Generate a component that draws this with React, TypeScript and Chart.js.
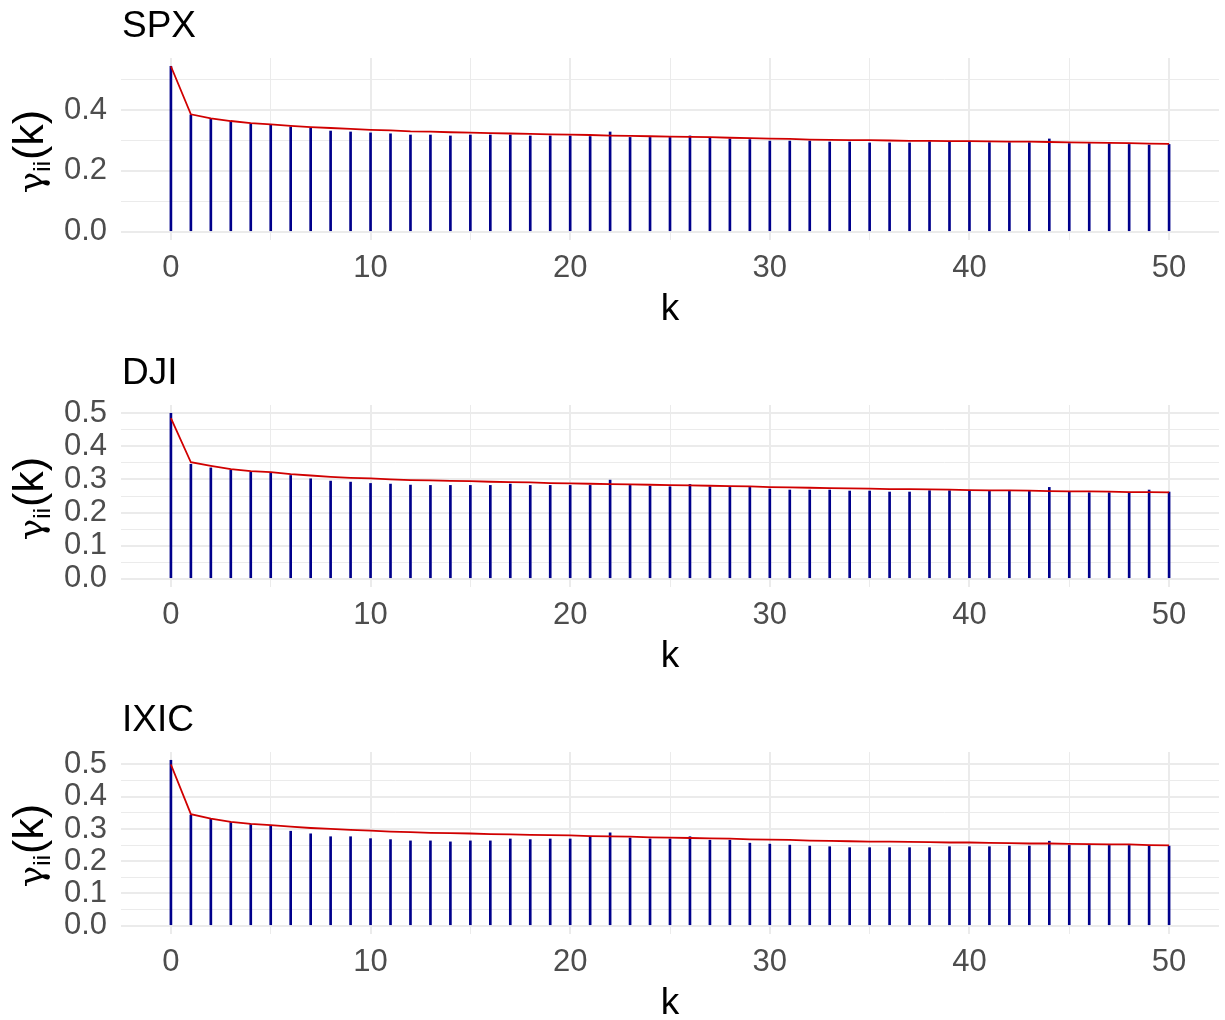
import React, { useEffect, useRef } from 'react';
import { Chart, registerables } from 'chart.js';

Chart.register(...registerables);

// ---------- data ----------
const lags = [
  0, 1, 2, 3, 4, 5, 6, 7, 8, 9, 10, 11, 12, 13, 14, 15, 16, 17, 18, 19, 20, 21, 22, 23, 24, 25,
  26, 27, 28, 29, 30, 31, 32, 33, 34, 35, 36, 37, 38, 39, 40, 41, 42, 43, 44, 45, 46, 47, 48, 49, 50,
];

const spxAcf = [
  0.544, 0.384, 0.370, 0.362, 0.355, 0.353, 0.345, 0.340, 0.331, 0.328, 0.325, 0.322, 0.318,
  0.318, 0.315, 0.318, 0.318, 0.318, 0.315, 0.315, 0.315, 0.313, 0.328, 0.310, 0.310, 0.310,
  0.315, 0.307, 0.305, 0.303, 0.298, 0.298, 0.298, 0.295, 0.295, 0.292, 0.292, 0.292, 0.296,
  0.294, 0.294, 0.293, 0.293, 0.293, 0.305, 0.290, 0.290, 0.290, 0.287, 0.285, 0.287,
];
const spxFit = [
  0.544, 0.386, 0.373, 0.364, 0.357, 0.353, 0.348, 0.344, 0.341, 0.338, 0.335, 0.333, 0.330,
  0.329, 0.327, 0.326, 0.324, 0.323, 0.322, 0.320, 0.319, 0.318, 0.316, 0.315, 0.314, 0.313,
  0.312, 0.311, 0.309, 0.308, 0.306, 0.305, 0.303, 0.302, 0.301, 0.301, 0.300, 0.299, 0.299,
  0.298, 0.298, 0.297, 0.296, 0.296, 0.295, 0.294, 0.293, 0.292, 0.291, 0.290, 0.289,
];

const djiAcf = [
  0.500, 0.346, 0.335, 0.328, 0.322, 0.320, 0.312, 0.302, 0.295, 0.292, 0.288, 0.286, 0.283,
  0.282, 0.282, 0.282, 0.282, 0.286, 0.282, 0.282, 0.282, 0.282, 0.298, 0.282, 0.280, 0.278,
  0.285, 0.278, 0.276, 0.276, 0.271, 0.268, 0.268, 0.268, 0.265, 0.265, 0.262, 0.262, 0.266,
  0.266, 0.266, 0.264, 0.264, 0.264, 0.276, 0.262, 0.260, 0.260, 0.260, 0.268, 0.262,
];
const djiFit = [
  0.485, 0.352, 0.341, 0.331, 0.325, 0.322, 0.316, 0.312, 0.308, 0.305, 0.303, 0.300, 0.298,
  0.297, 0.296, 0.295, 0.293, 0.292, 0.291, 0.289, 0.288, 0.287, 0.286, 0.285, 0.284, 0.283,
  0.282, 0.281, 0.280, 0.279, 0.277, 0.276, 0.275, 0.274, 0.273, 0.272, 0.271, 0.271, 0.270,
  0.269, 0.268, 0.267, 0.267, 0.266, 0.265, 0.264, 0.264, 0.263, 0.262, 0.262, 0.261,
];

const ixicAcf = [
  0.513, 0.343, 0.330, 0.320, 0.314, 0.310, 0.293, 0.285, 0.276, 0.276, 0.270, 0.267, 0.263,
  0.263, 0.260, 0.263, 0.263, 0.269, 0.267, 0.269, 0.269, 0.275, 0.288, 0.272, 0.269, 0.269,
  0.276, 0.265, 0.265, 0.256, 0.253, 0.250, 0.247, 0.245, 0.242, 0.242, 0.242, 0.242, 0.242,
  0.245, 0.245, 0.245, 0.247, 0.247, 0.262, 0.249, 0.249, 0.249, 0.249, 0.249, 0.247,
];
const ixicFit = [
  0.500, 0.346, 0.332, 0.322, 0.316, 0.312, 0.307, 0.303, 0.300, 0.297, 0.295, 0.292, 0.290,
  0.288, 0.287, 0.286, 0.284, 0.283, 0.282, 0.281, 0.280, 0.278, 0.277, 0.276, 0.274, 0.273,
  0.272, 0.271, 0.270, 0.268, 0.267, 0.266, 0.264, 0.263, 0.262, 0.261, 0.261, 0.260, 0.259,
  0.258, 0.258, 0.257, 0.256, 0.255, 0.255, 0.254, 0.253, 0.252, 0.252, 0.250, 0.249,
];

const xMajorTicks = [0, 10, 20, 30, 40, 50];
const xMinorTicks = [5, 15, 25, 35, 45];
const spxYMajor = [0, 0.2, 0.4];
const spxYMinor = [0.1, 0.3, 0.5];
const fineYMajor = [0, 0.1, 0.2, 0.3, 0.4, 0.5];
const fineYMinor = [0.05, 0.15, 0.25, 0.35, 0.45];

const FONT = '"Liberation Sans", Arial, Helvetica, sans-serif';
const GREEK_FONT = '"DejaVu Serif", "Noto Sans", serif';
const BAR_COLOR = '#00008B';
const LINE_COLOR = '#D00000';
const GRID = '#EBEBEB';
const TICK_COLOR = '#4D4D4D';

const PANEL_W = 1225;
const PANEL_H = 347;

type PanelProps = {
  title: string;
  acf: number[];
  fit: number[];
  yMajor: number[];
  yMinor: number[];
};

const isIn = (arr: number[], v: number) => arr.some((a) => Math.abs(a - v) < 1e-9);

function Panel({ title, acf, fit, yMajor, yMinor }: PanelProps) {
  const ref = useRef<HTMLCanvasElement | null>(null);

  useEffect(() => {
    if (!ref.current) return;
    const all = [...acf, ...fit, 0];
    const hi = Math.max(...all);
    const lo = Math.min(...all);
    const span = hi - lo;
    const yMin = lo - 0.05 * span;
    const yMax = hi + 0.05 * span;
    const xMin = lags[0] - 0.05 * (lags[lags.length - 1] - lags[0]);
    const xMax = lags[lags.length - 1] + 0.05 * (lags[lags.length - 1] - lags[0]);

    const textPlugin = {
      id: 'panelText',
      afterDraw(chart: any) {
        const { ctx, chartArea } = chart;
        ctx.save();
        // title
        ctx.fillStyle = '#000';
        ctx.textAlign = 'left';
        ctx.textBaseline = 'alphabetic';
        ctx.font = `37px ${FONT}`;
        ctx.fillText(title, chartArea.left + 1, 37);
        // x title
        ctx.textAlign = 'center';
        ctx.font = `37px ${FONT}`;
        ctx.fillText('k', (chartArea.left + chartArea.right) / 2, 320);
        // y title with subscript
        const cy = (chartArea.top + chartArea.bottom) / 2 + 3;
        ctx.translate(43, cy);
        ctx.rotate(-Math.PI / 2);
        const f1 = `36px ${GREEK_FONT}`;
        const f2 = `24px ${FONT}`;
        const f3 = `43px ${FONT}`;
        ctx.font = f1;
        const w1 = ctx.measureText('γ').width;
        ctx.font = f2;
        const w2 = ctx.measureText('ii').width;
        ctx.font = f3;
        const w3 = ctx.measureText('(k)').width;
        let x = -(w1 + w2 + w3) / 2;
        ctx.textAlign = 'left';
        ctx.font = f1;
        ctx.fillText('γ', x, 0);
        x += w1;
        ctx.font = f2;
        ctx.fillText('ii', x, 7);
        x += w2 + 1;
        ctx.font = f3;
        ctx.fillText('(k)', x, 0);
        ctx.restore();
      },
    };

    const chart = new Chart(ref.current, {
      type: 'bar',
      data: {
        datasets: [
          {
            type: 'line',
            data: lags.map((k, i) => ({ x: k, y: fit[i] })),
            borderColor: LINE_COLOR,
            borderWidth: 1.8,
            pointRadius: 0,
            fill: false,
            tension: 0,
            order: 0,
          } as any,
          {
            type: 'bar',
            data: lags.map((k, i) => ({ x: k, y: acf[i] })),
            backgroundColor: BAR_COLOR,
            borderWidth: 0,
            barThickness: 2,
            order: 1,
          } as any,
        ],
      },
      options: {
        responsive: false,
        animation: false,
        devicePixelRatio: 1,
        events: [],
        layout: { padding: { top: 58, left: 0, right: 6, bottom: 0 } },
        plugins: {
          legend: { display: false },
          tooltip: { enabled: false },
          title: { display: false },
        },
        scales: {
          x: {
            type: 'linear',
            min: xMin,
            max: xMax,
            offset: false,
            afterBuildTicks: (scale: any) => {
              scale.ticks = [...xMajorTicks, ...xMinorTicks]
                .sort((a, b) => a - b)
                .map((v) => ({ value: v }));
            },
            afterFit: (scale: any) => {
              scale.height = 107;
            },
            border: { display: false },
            grid: {
              offset: false,
              drawTicks: false,
              color: GRID,
              lineWidth: (c: any) => (isIn(xMajorTicks, c.tick?.value) ? 2 : 1),
            },
            ticks: {
              autoSkip: false,
              maxRotation: 0,
              padding: 10,
              color: TICK_COLOR,
              font: { family: FONT, size: 31 },
              callback: (v: any) => (isIn(xMajorTicks, Number(v)) ? String(v) : ''),
            },
          },
          y: {
            type: 'linear',
            min: yMin,
            max: yMax,
            afterBuildTicks: (scale: any) => {
              scale.ticks = [...yMajor, ...yMinor]
                .filter((v) => v >= yMin && v <= yMax)
                .sort((a, b) => a - b)
                .map((v) => ({ value: v }));
            },
            afterFit: (scale: any) => {
              scale.width = 121;
            },
            border: { display: false },
            grid: {
              drawTicks: false,
              color: GRID,
              lineWidth: (c: any) => (isIn(yMajor, c.tick?.value) ? 2 : 1),
            },
            ticks: {
              autoSkip: false,
              padding: 14,
              color: TICK_COLOR,
              font: { family: FONT, size: 31 },
              callback: (v: any) => (isIn(yMajor, Number(v)) ? Number(v).toFixed(1) : ''),
            },
          },
        },
      },
      plugins: [textPlugin],
    } as any);

    return () => chart.destroy();
  }, [title, acf, fit, yMajor, yMinor]);

  return <canvas ref={ref} width={PANEL_W} height={PANEL_H} style={{ display: 'block' }} />;
}

export default function App() {
  useEffect(() => {
    document.body.style.margin = '0';
    document.body.style.overflow = 'hidden';
  }, []);
  return (
    <div style={{ width: 1225, height: 1020, overflow: 'hidden', background: '#fff' }}>
      <Panel title="SPX" acf={spxAcf} fit={spxFit} yMajor={spxYMajor} yMinor={spxYMinor} />
      <Panel title="DJI" acf={djiAcf} fit={djiFit} yMajor={fineYMajor} yMinor={fineYMinor} />
      <Panel title="IXIC" acf={ixicAcf} fit={ixicFit} yMajor={fineYMajor} yMinor={fineYMinor} />
    </div>
  );
}
